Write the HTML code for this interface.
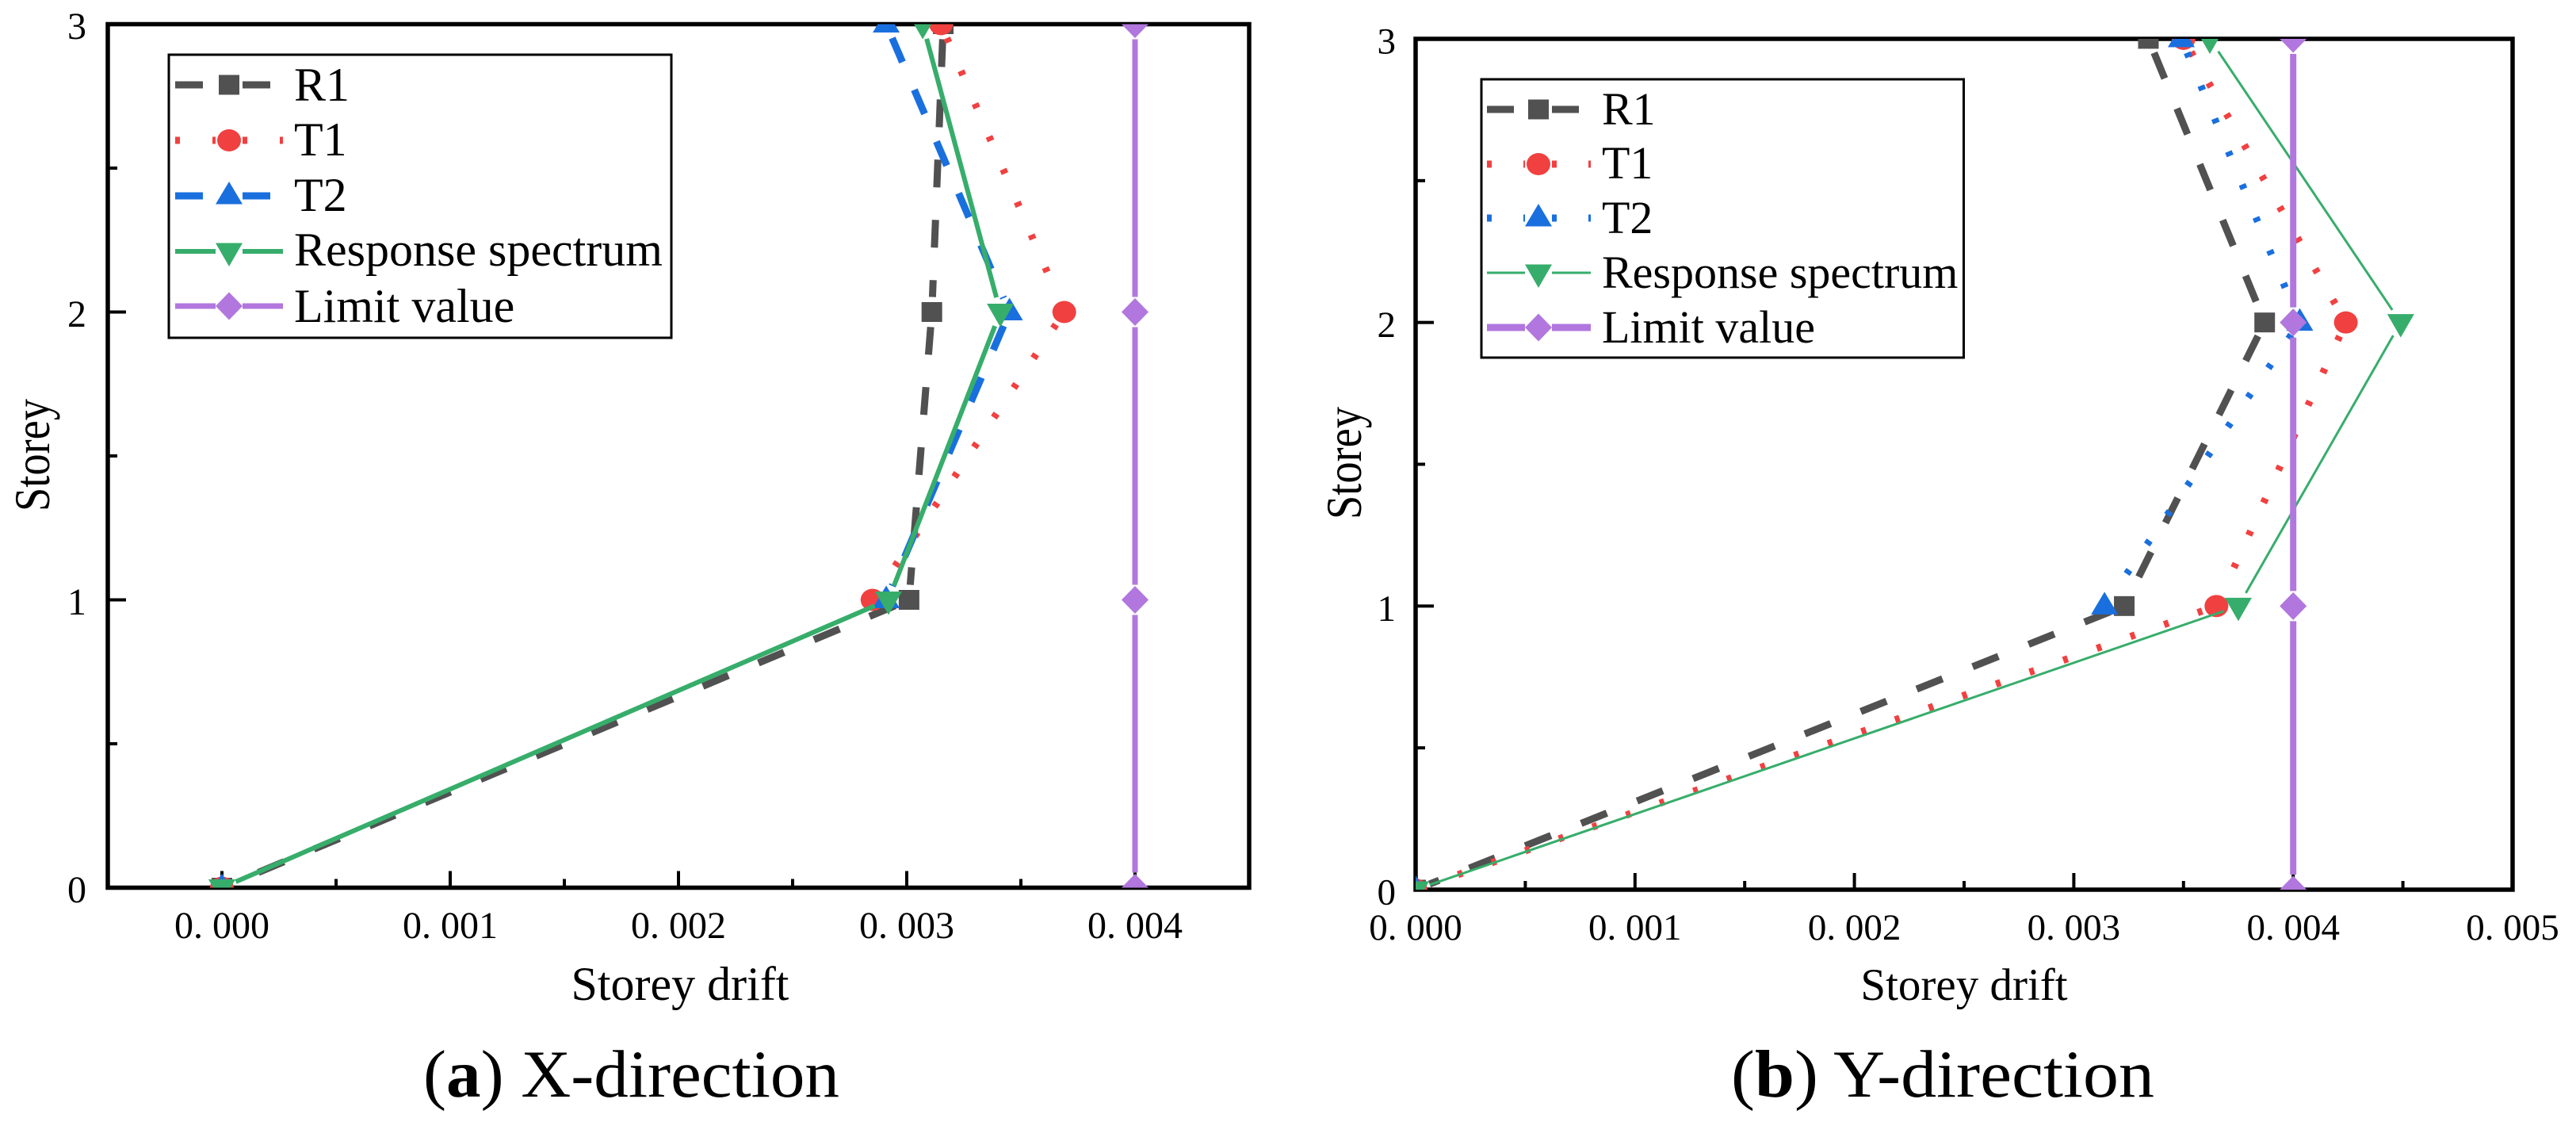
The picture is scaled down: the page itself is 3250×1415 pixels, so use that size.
<!DOCTYPE html>
<html lang="en">
<head>
<meta charset="utf-8">
<title>Storey drift in X and Y directions</title>
<style>
html,body{margin:0;padding:0;background:#fff;}
svg{display:block;}
text{font-family:"Liberation Serif","Noto Serif CJK SC",serif;fill:#000;}
</style>
</head>
<body>
<svg id="figure" xmlns="http://www.w3.org/2000/svg" width="3250" height="1415" viewBox="0 0 3250 1415">
  <rect x="0" y="0" width="3250" height="1415" fill="#ffffff"/>
  <text x="534" y="1383" font-size="85" textLength="525" lengthAdjust="spacingAndGlyphs">(<tspan font-weight="bold">a</tspan>) X-direction</text>
  <text x="2184" y="1383" font-size="85" textLength="534" lengthAdjust="spacingAndGlyphs">(<tspan font-weight="bold">b</tspan>) Y-direction</text>
  <text x="858" y="1261" font-size="60" text-anchor="middle">Storey drift</text>
  <text x="2478" y="1261" font-size="57" text-anchor="middle">Storey drift</text>
  <text transform="translate(62,645) rotate(-90)" font-size="64" textLength="142" lengthAdjust="spacingAndGlyphs">Storey</text>
  <text transform="translate(1717,655) rotate(-90)" font-size="64" textLength="142" lengthAdjust="spacingAndGlyphs">Storey</text>
</svg>
<script>
// ---- data ----
const storeys = [3, 2, 1, 0];
const yMajorTicks = [0, 1, 2, 3];
const yMinorTicks = [0.5, 1.5, 2.5];
const yTickLabels = ["0", "1", "2", "3"];
const seriesNames = ["R1", "T1", "T2", "Response spectrum", "Limit value"];

// Panel (a) X-direction: drift at storey 3, 2, 1, 0
const xDirR1 = [0.00316, 0.00311, 0.00301, 0];
const xDirT1 = [0.00315, 0.00369, 0.00285, 0];
const xDirT2 = [0.00291, 0.00345, 0.00291, 0];
const xDirResponse = [0.00307, 0.00341, 0.00292, 0];
const xDirLimit = [0.004, 0.004, 0.004, 0.004];
const xDirMajorTicks = [0, 0.001, 0.002, 0.003, 0.004];
const xDirMinorTicks = [0.0005, 0.0015, 0.0025, 0.0035];
const xDirTickLabels = ["0. 000", "0. 001", "0. 002", "0. 003", "0. 004"];

// Panel (b) Y-direction: drift at storey 3, 2, 1, 0
const yDirR1 = [0.00334, 0.00387, 0.00323, 0];
const yDirT1 = [0.0035, 0.00424, 0.00365, 0];
const yDirT2 = [0.00349, 0.00403, 0.00314, 0];
const yDirResponse = [0.00362, 0.00449, 0.00375, 0];
const yDirLimit = [0.004, 0.004, 0.004, 0.004];
const yDirMajorTicks = [0, 0.001, 0.002, 0.003, 0.004, 0.005];
const yDirMinorTicks = [0.0005, 0.0015, 0.0025, 0.0035, 0.0045];
const yDirTickLabels = ["0. 000", "0. 001", "0. 002", "0. 003", "0. 004", "0. 005"];

// ---- drawing ----
const NS = "http://www.w3.org/2000/svg";
const svg = document.getElementById("figure");
const COLORS = ["#515151", "#f14040", "#1a6fdf", "#37ad6b", "#b177de"];
const MARKERS = ["square", "circle", "up", "down", "diamond"];

function add(parent, tag, attrs, name) {
  const el = document.createElementNS(NS, tag);
  for (const k in attrs) el.setAttribute(k, attrs[k]);
  
  
  parent.appendChild(el);
  return el;
}

function marker(parent, kind, cx, cy, color, name) {
  if (kind === "square") {
    return add(parent, "rect", {x: cx - 13, y: cy - 12.5, width: 26, height: 25, fill: color}, name);
  }
  if (kind === "circle") {
    return add(parent, "ellipse", {cx: cx, cy: cy, rx: 15, ry: 14, fill: color}, name);
  }
  let pts;
  if (kind === "up") pts = [[cx, cy - 18], [cx + 17, cy + 10.5], [cx - 17, cy + 10.5]];
  else if (kind === "down") pts = [[cx - 17, cy - 10.5], [cx + 17, cy - 10.5], [cx, cy + 19]];
  else pts = [[cx, cy - 17.5], [cx + 17, cy], [cx, cy + 17.5], [cx - 17, cy]];
  return add(parent, "polygon", {points: pts.map(p => p.join(",")).join(" "), fill: color}, name);
}

function drawPanel(p) {
  const g = add(svg, "g", {}, "chart-panel-" + p.id);
  const xScale = v => p.left + (v - p.xMin) / (p.xMax - p.xMin) * (p.right - p.left);
  const yScale = v => p.bottom - (v - 0) / 3 * (p.bottom - p.top);

  // frame
  add(g, "rect", {x: p.left, y: p.top, width: p.right - p.left, height: p.bottom - p.top, fill: "none", stroke: "#000", "stroke-width": 5.5}, "plot-frame");

  // ticks
  p.xMajor.forEach((v, i) => {
    add(g, "rect", {x: xScale(v) - 2, y: p.bottom - 21, width: 4, height: 21, fill: "#000"}, "x-major-tick");
    const t = add(g, "text", {x: xScale(v), y: p.xLabelY, "font-size": p.tickFont, "text-anchor": "middle"}, "x-tick-label");
    t.textContent = p.xLabels[i];
  });
  p.xMinor.forEach(v => {
    add(g, "rect", {x: xScale(v) - 2, y: p.bottom - 11, width: 4, height: 11, fill: "#000"}, "x-minor-tick");
  });
  yMajorTicks.forEach((v, i) => {
    add(g, "rect", {x: p.left, y: yScale(v) - 2, width: 23, height: 4, fill: "#000"}, "y-major-tick");
    const t = add(g, "text", {x: p.yLabelX, y: yScale(v) + 18.5, "font-size": p.tickFont, "text-anchor": "end"}, "y-tick-label");
    t.textContent = yTickLabels[i];
  });
  yMinorTicks.forEach(v => {
    add(g, "rect", {x: p.left, y: yScale(v) - 2, width: 12, height: 4, fill: "#000"}, "y-minor-tick");
  });

  // clip
  const defs = add(g, "defs", {}, "clip-defs");
  const clip = add(defs, "clipPath", {id: "clip-" + p.id}, "plot-clip");
  add(clip, "rect", {x: p.left, y: p.top, width: p.right - p.left, height: p.bottom - p.top}, "plot-clip-rect");

  // series
  const plot = add(g, "g", {"clip-path": "url(#clip-" + p.id + ")"}, "plot-area");
  p.series.forEach((vals, s) => {
    const sg = add(plot, "g", {}, "series-" + seriesNames[s].toLowerCase().replace(/ /g, "-"));
    for (let i = 0; i < vals.length - 1; i++) {
      // the reference shows no line for these series below storey 1
      if (i === vals.length - 2 && p.noBottomLine[s]) continue;
      const x1 = xScale(vals[i]), y1 = yScale(storeys[i]);
      const x2 = xScale(vals[i + 1]), y2 = yScale(storeys[i + 1]);
      const len = Math.hypot(x2 - x1, y2 - y1);
      const ux = (x2 - x1) / len, uy = (y2 - y1) / len;
      const attrs = {
        x1: x1 + ux * 19, y1: y1 + uy * 19,
        x2: x2 - ux * 19, y2: y2 - uy * 19,
        stroke: COLORS[s], "stroke-width": p.widths[s]
      };
      if (p.dashes[s]) attrs["stroke-dasharray"] = p.dashes[s];
      add(sg, "line", attrs, "series-segment");
    }
    vals.forEach((v, i) => {
      marker(sg, MARKERS[s], xScale(v), yScale(storeys[i]), COLORS[s], "series-marker");
    });
  });

  // legend
  const lg = add(g, "g", {}, "legend");
  add(lg, "rect", {x: p.legend.x, y: p.legend.y, width: p.legend.w, height: p.legend.h, fill: "#fff", stroke: "#000", "stroke-width": 3}, "legend-box");
  seriesNames.forEach((n, s) => {
    const row = add(lg, "g", {}, "legend-entry");
    const y = p.legend.rows[s];
    const lineAttrs = {y1: y, y2: y, stroke: COLORS[s], "stroke-width": p.legend.widths[s]};
    if (p.legend.dashes[s]) lineAttrs["stroke-dasharray"] = p.legend.dashes[s];
    add(row, "line", Object.assign({x1: p.legend.lineL, x2: p.legend.mid - 17}, lineAttrs), "legend-line-left");
    add(row, "line", Object.assign({x1: p.legend.mid + 17, x2: p.legend.lineR}, lineAttrs), "legend-line-right");
    marker(row, MARKERS[s], p.legend.mid, y, COLORS[s], "legend-marker");
    const t = add(row, "text", {x: p.legend.textX, y: p.legend.base[s], "font-size": p.legend.font}, "legend-label");
    t.textContent = n;
  });
}

drawPanel({
  id: "a", left: 136, right: 1576, top: 30.5, bottom: 1119.5,
  xMin: -0.0005, xMax: 0.0045,
  xMajor: xDirMajorTicks, xMinor: xDirMinorTicks, xLabels: xDirTickLabels,
  xLabelY: 1183, yLabelX: 109, tickFont: 48,
  series: [xDirR1, xDirT1, xDirT2, xDirResponse, xDirLimit],
  noBottomLine: [false, true, true, false, false],
  widths: [9, 9, 9, 6, 7],
  dashes: ["35 41", "6 39", "33 38", "", ""],
  legend: {
    x: 213, y: 69, w: 634, h: 357, lineL: 221, lineR: 357, mid: 289, textX: 371, font: 60,
    rows: [107, 177, 247, 317, 386], base: [127, 196, 266, 335, 406],
    widths: [9, 9, 9, 6, 7], dashes: ["35 60", "6 41", "35 60", "", ""]
  }
});

drawPanel({
  id: "b", left: 1786, right: 3170, top: 49, bottom: 1122,
  xMin: 0, xMax: 0.005,
  xMajor: yDirMajorTicks, xMinor: yDirMinorTicks, xLabels: yDirTickLabels,
  xLabelY: 1185, yLabelX: 1761, tickFont: 47,
  series: [yDirR1, yDirT1, yDirT2, yDirResponse, yDirLimit],
  noBottomLine: [false, false, true, false, false],
  widths: [9, 9, 9, 3, 8],
  dashes: ["35 41", "6 39", "6 39", "", ""],
  legend: {
    x: 1869, y: 100, w: 608.5, h: 351, lineL: 1876, lineR: 2007, mid: 1941, textX: 2021, font: 58,
    rows: [138, 207, 275, 344, 413], base: [157, 225, 294, 363, 432],
    widths: [9, 9, 9, 3, 9], dashes: ["34 60", "6 40", "6 40", "", ""]
  }
});
</script>
</body>
</html>
